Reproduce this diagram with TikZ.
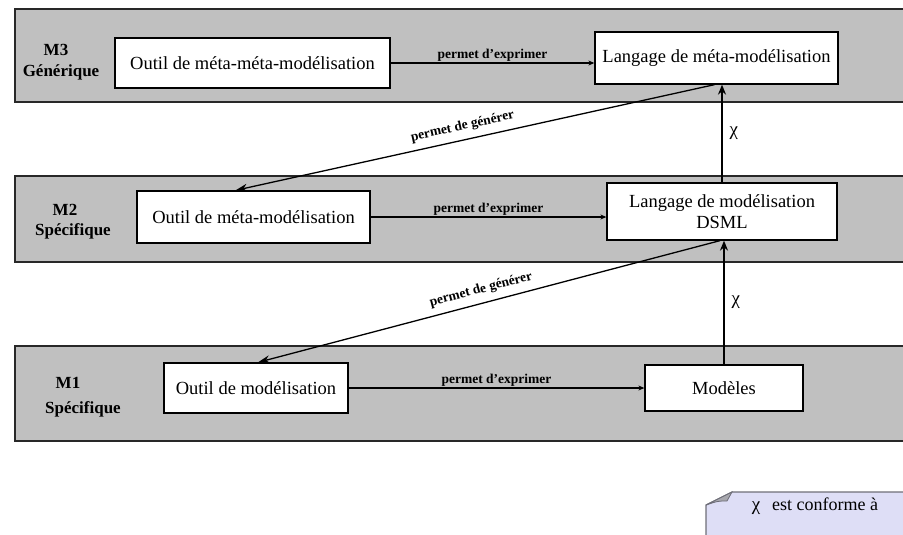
\documentclass[tikz,border=0pt]{standalone}
\usepackage{fontspec}
\setmainfont{Liberation Serif}
\usetikzlibrary{arrows.meta}
\definecolor{bandgray}{RGB}{192,192,192}
\definecolor{bandline}{RGB}{40,40,40}
\definecolor{notefill}{RGB}{222,222,246}
\definecolor{noteline}{RGB}{110,110,120}
\begin{document}
\begin{tikzpicture}[x=1pt,y=-1pt,
  band/.style={draw=bandline,line width=2pt,fill=bandgray,minimum height=#1,inner sep=0pt,anchor=north west},
  level/.style={font=\bfseries\fontsize{17}{19}\selectfont,align=center,inner sep=0pt},
  box/.style={draw=black,line width=1.3pt,fill=white,inner sep=0pt,align=center,
    font=\fontsize{18.5}{21}\selectfont},
  rel/.style={draw=black,line width=1.1pt,-{Stealth[length=6pt,width=5pt]}},
  gen/.style={draw=black,line width=1.3pt,-{Stealth[length=12pt,width=8pt]}},
  conf/.style={draw=black,line width=1.3pt,-{Stealth[length=10pt,width=8pt]}},
  rellabel/.style={font=\bfseries\fontsize{13.5}{15}\selectfont,inner sep=1.5pt},
  chi/.style={font=\fontsize{19}{21}\selectfont,inner sep=0pt}]
\useasboundingbox (0,0) rectangle (903,535);

% three horizontal levels
\node[band=93pt,minimum width=900pt] (band3) at (14,8) {};
\node[band=86pt,minimum width=900pt] (band2) at (14,175) {};
\node[band=95pt,minimum width=900pt] (band1) at (14,345) {};

% level names
\node[level] (l3) at (56,50) {M3};
\node[level] (l3b) at (61,72) {Générique};
\node[level] (l2) at (65,210) {M2};
\node[level] (l2b) at (73,231) {Spécifique};
\node[level] (l1) at (68,383) {M1};
\node[level] (l1b) at (83,409) {Spécifique};

% tools and languages
\node[box,minimum width=275pt,minimum height=50pt] (m3l) at (252.5,63) {Outil de méta-méta-modélisation};
\node[box,minimum width=243pt,minimum height=52pt] (m3r) at (716.5,58) {Langage de méta-modélisation};
\node[box,minimum width=233pt,minimum height=52pt] (m2l) at (253.5,217) {Outil de méta-modélisation};
\node[box,minimum width=230pt,minimum height=57pt] (m2r) at (722,211.5) {Langage de modélisation\\DSML};
\node[box,minimum width=184pt,minimum height=50pt] (m1l) at (256,388) {Outil de modélisation};
\node[box,minimum width=158pt,minimum height=46pt] (m1r) at (724,388) {Modèles};

% "permet d'exprimer"
\draw[rel] (m3l.east) -- (m3l.east -| m3r.west) node[midway,above,rellabel] {permet d'exprimer};
\draw[rel] (m2l.east) -- (m2l.east -| m2r.west) node[midway,above,rellabel] {permet d'exprimer};
\draw[rel] (m1l.east) -- (m1l.east -| m1r.west) node[midway,above,rellabel] {permet d'exprimer};

% conformance
\draw[conf] (m1r.north) -- (m1r.north |- m2r.south) node[midway,right=7pt,chi] {χ};
\draw[conf] (m2r.north) -- (m2r.north |- m3r.south) node[midway,right=7pt,chi] {χ};

% "permet de générer"
\draw[gen] ([xshift=-2pt]m3r.south) -- ([xshift=-18pt]m2l.north)
  node[pos=0.52,sloped,above,rellabel,inner sep=6.5pt] {permet de générer};
\draw[gen] ([xshift=-2pt]m2r.south) -- ([xshift=2pt]m1l.north)
  node[pos=0.51,sloped,above,rellabel,inner sep=6.5pt] {permet de générer};

% legend note with folded corner
\fill[notefill] (732,492) -- (910,492) -- (910,540) -- (706,540) -- (706,505) -- cycle;
\draw[noteline,line width=1.2pt] (910,492) -- (732,492) -- (706,505) -- (706,540);
\filldraw[fill=noteline!60,draw=noteline,line width=0.8pt] (706,505) -- (732,492) .. controls (729,497) .. (727,501) .. controls (718,501) .. (706,505) -- cycle;
\node[chi] (lchi) at (756,508) {χ};
\node[font=\fontsize{18}{20}\selectfont,inner sep=0pt,anchor=west] (ltxt) at (772,504) {est conforme à};
\end{tikzpicture}
\end{document}
